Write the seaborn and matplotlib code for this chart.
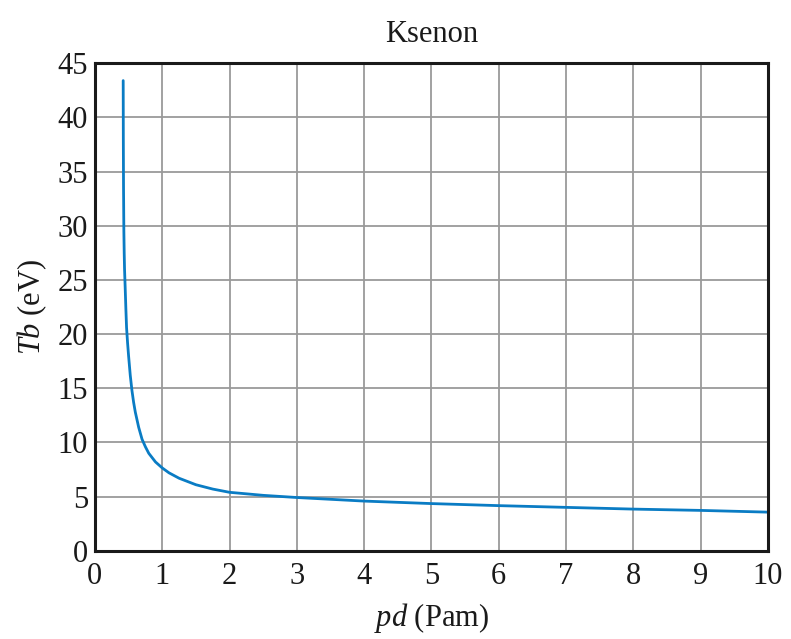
"""
Breakdown temperature Tb vs pd for xenon (Ksenon).
"""

import matplotlib.pyplot as plt
import pandas as pd
import seaborn as sns

pd_values = [0.42, 0.422, 0.425, 0.43, 0.435, 0.44, 0.45, 0.46, 0.47, 0.485, 0.5, 0.525, 0.55,
             0.575, 0.6, 0.65, 0.7, 0.75, 0.8, 0.9, 1.0, 1.1, 1.25, 1.5, 1.75, 2.0, 2.5, 3.0,
             4.0, 5.0, 6.0, 7.0, 8.0, 9.0, 10.0]
tb_values = [43.4, 38.0, 33.5, 29.5, 27.5, 26.0, 24.2, 22.3, 20.6, 19.2, 18.0, 16.2, 14.8,
             13.7, 12.8, 11.4, 10.3, 9.6, 9.0, 8.2, 7.65, 7.2, 6.7, 6.1, 5.7, 5.4, 5.12, 4.92,
             4.59, 4.36, 4.17, 4.01, 3.85, 3.73, 3.57]
x_ticks = list(range(0, 11))
y_ticks = list(range(0, 46, 5))

df = pd.DataFrame({"pd": pd_values, "Tb": tb_values})

sns.set_style("white")
plt.rcParams["font.family"] = ["Liberation Serif", "DejaVu Serif"]
plt.rcParams["mathtext.fontset"] = "custom"
plt.rcParams["mathtext.rm"] = "Liberation Serif"
plt.rcParams["mathtext.it"] = "Liberation Serif:italic"

fig = plt.figure(figsize=(7.91, 6.39), dpi=100)
ax = fig.add_axes([0.120, 0.138, 0.851, 0.763])

sns.lineplot(data=df, x="pd", y="Tb", sort=False, estimator=None,
             color="#0a7cc4", linewidth=2.0, ax=ax)

ax.set_xlim(0, 10)
ax.set_ylim(0, 45)
ax.set_xticks(x_ticks)
ax.set_yticks(y_ticks)
ax.grid(True, color="#9a9a9a", linewidth=1.3)
ax.set_axisbelow(True)
for s in ax.spines.values():
    s.set_color("#1a1a1a")
    s.set_linewidth(2.2)
ax.tick_params(axis="both", direction="in", length=3, width=1, labelsize=22, pad=5,
               colors="#1a1a1a")
ax.tick_params(axis="x", pad=8)

ax.set_title("Ksenon", fontsize=22, pad=15, color="#1a1a1a")
ax.set_xlabel("$\\mathit{pd}$ (Pam)", fontsize=22, labelpad=7, color="#1a1a1a")
ax.set_ylabel("$\\mathit{Tb}$ (eV)", fontsize=22, labelpad=6, color="#1a1a1a")

plt.savefig("out.png", dpi=100)
plt.close()
